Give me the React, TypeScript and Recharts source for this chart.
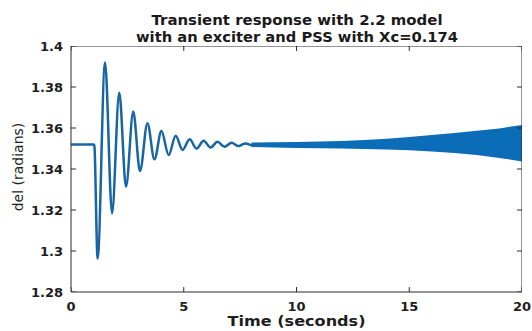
import React from "react";
import { ComposedChart, Line, Area, XAxis, YAxis } from "recharts";

// Transient swing (peaks / troughs)
const transientTime = [0, 1.03, 1.18, 1.51, 1.82, 2.14, 2.44, 2.76, 3.06, 3.39, 3.7, 4.01, 4.33, 4.64, 4.95, 5.26, 5.57, 5.88, 6.19, 6.5, 6.81, 7.12, 7.43, 7.74, 8.05, 8.36];
const transientDelta = [1.352, 1.352, 1.2964, 1.392, 1.3184, 1.3772, 1.3314, 1.368, 1.339, 1.3623, 1.3447, 1.3585, 1.3468, 1.3562, 1.3493, 1.3545, 1.3499, 1.3538, 1.3505, 1.3533, 1.3508, 1.3528, 1.3512, 1.3525, 1.3515, 1.3522];

// Envelope of the fast growing oscillation (filled band)
const bandTime = [8, 9, 10, 11, 12, 13, 14, 15, 16, 17, 18, 19, 20];
const bandUpper = [1.3529, 1.3531, 1.3532, 1.3534, 1.3537, 1.3541, 1.3547, 1.3556, 1.3566, 1.3576, 1.3586, 1.3598, 1.3615];
const bandLower = [1.3507, 1.3505, 1.3502, 1.3501, 1.35, 1.3498, 1.3495, 1.3492, 1.3485, 1.3478, 1.3468, 1.3454, 1.3437];

const xTicks = [0, 5, 10, 15, 20];
const yTicks = [1.28, 1.3, 1.32, 1.34, 1.36, 1.38, 1.4];

const titleLines = ["Transient response with 2.2 model", "with an exciter and PSS with Xc=0.174"];
const xLabel = "Time (seconds)";
const yLabel = "del (radians)";

const lineData = transientTime.map((t, i) => ({ t, v: transientDelta[i] }));
const bandData = bandTime.map((t, i) => ({ t, range: [bandLower[i], bandUpper[i]] }));

const X_MIN = xTicks[0];
const X_MAX = xTicks[xTicks.length - 1];
const Y_MIN = yTicks[0];
const Y_MAX = yTicks[yTicks.length - 1];
// inward tick length in data units (about 5 px)
const xTickLen = 0.22;
const yTickLen = 0.0024;

// frame (top and right edges of the MATLAB box) and inward tick marks, all in data units
const frameData = [
  { t: X_MIN, v: Y_MAX },
  { t: X_MAX, v: Y_MAX },
  { t: X_MAX, v: Y_MIN },
];
const tickSegments = [
  ...yTicks.map((y) => [{ t: X_MIN, v: y }, { t: X_MIN + xTickLen, v: y }]),
  ...yTicks.map((y) => [{ t: X_MAX - xTickLen, v: y }, { t: X_MAX, v: y }]),
  ...xTicks.map((x) => [{ t: x, v: Y_MIN }, { t: x, v: Y_MIN + yTickLen }]),
  ...xTicks.map((x) => [{ t: x, v: Y_MAX - yTickLen }, { t: x, v: Y_MAX }]),
];

const axisColor = "#2b2b2b";
const tickFont = { fontFamily: "DejaVu Sans", fontWeight: 700, fontSize: 13, fill: "#1e1e1e" };

export default function App() {
  return (
    <div style={{ position: "absolute", left: 0, top: 0, width: 532, height: 331, background: "#fff" }}>
      <ComposedChart width={532} height={331} margin={{ top: 46, right: 10, left: 0, bottom: 0 }}>
        <XAxis
          dataKey="t"
          type="number"
          domain={[X_MIN, X_MAX]}
          ticks={xTicks}
          allowDataOverflow
          height={39}
          tickLine={false}
          tickSize={0}
          tickMargin={10}
          stroke={axisColor}
          tick={tickFont}
        />
        <YAxis
          type="number"
          domain={[Y_MIN, Y_MAX]}
          ticks={yTicks}
          allowDataOverflow
          width={71}
          tickLine={false}
          tickSize={0}
          tickMargin={8}
          stroke={axisColor}
          tick={tickFont}
        />
        <Area
          data={bandData}
          dataKey="range"
          type="linear"
          stroke="none"
          fill="#0b6cb8"
          fillOpacity={1}
          isAnimationActive={false}
          dot={false}
          activeDot={false}
        />
        <Line
          data={lineData}
          dataKey="v"
          type="monotone"
          stroke="#1765a2"
          strokeWidth={2.5}
          dot={false}
          activeDot={false}
          isAnimationActive={false}
        />
        <Line
          data={frameData}
          dataKey="v"
          type="linear"
          stroke={axisColor}
          strokeWidth={1}
          dot={false}
          activeDot={false}
          isAnimationActive={false}
          legendType="none"
        />
        {tickSegments.map((seg, i) => (
          <Line
            key={`tick${i}`}
            data={seg}
            dataKey="v"
            type="linear"
            stroke={axisColor}
            strokeWidth={1}
            dot={false}
            activeDot={false}
            isAnimationActive={false}
            legendType="none"
          />
        ))}
      </ComposedChart>
      <svg width={532} height={331} style={{ position: "absolute", left: 0, top: 0, pointerEvents: "none" }}>
        <text x={297} y={25} textAnchor="middle" fontFamily="DejaVu Sans" fontWeight={700} fontSize={14} fill="#1a1a1a" textLength={291} lengthAdjust="spacingAndGlyphs">
          {titleLines[0]}
        </text>
        <text x={297} y={41.5} textAnchor="middle" fontFamily="DejaVu Sans" fontWeight={700} fontSize={14} fill="#1a1a1a" textLength={322} lengthAdjust="spacingAndGlyphs">
          {titleLines[1]}
        </text>
        <text x={296.5} y={326} textAnchor="middle" fontFamily="DejaVu Sans" fontWeight={700} fontSize={14} fill="#1e1e1e" textLength={138} lengthAdjust="spacingAndGlyphs">
          {xLabel}
        </text>
        <text transform="translate(23,167) rotate(-90)" textAnchor="middle" fontFamily="DejaVu Sans" fontSize={14} fill="#1e1e1e">
          {yLabel}
        </text>
      </svg>
    </div>
  );
}
